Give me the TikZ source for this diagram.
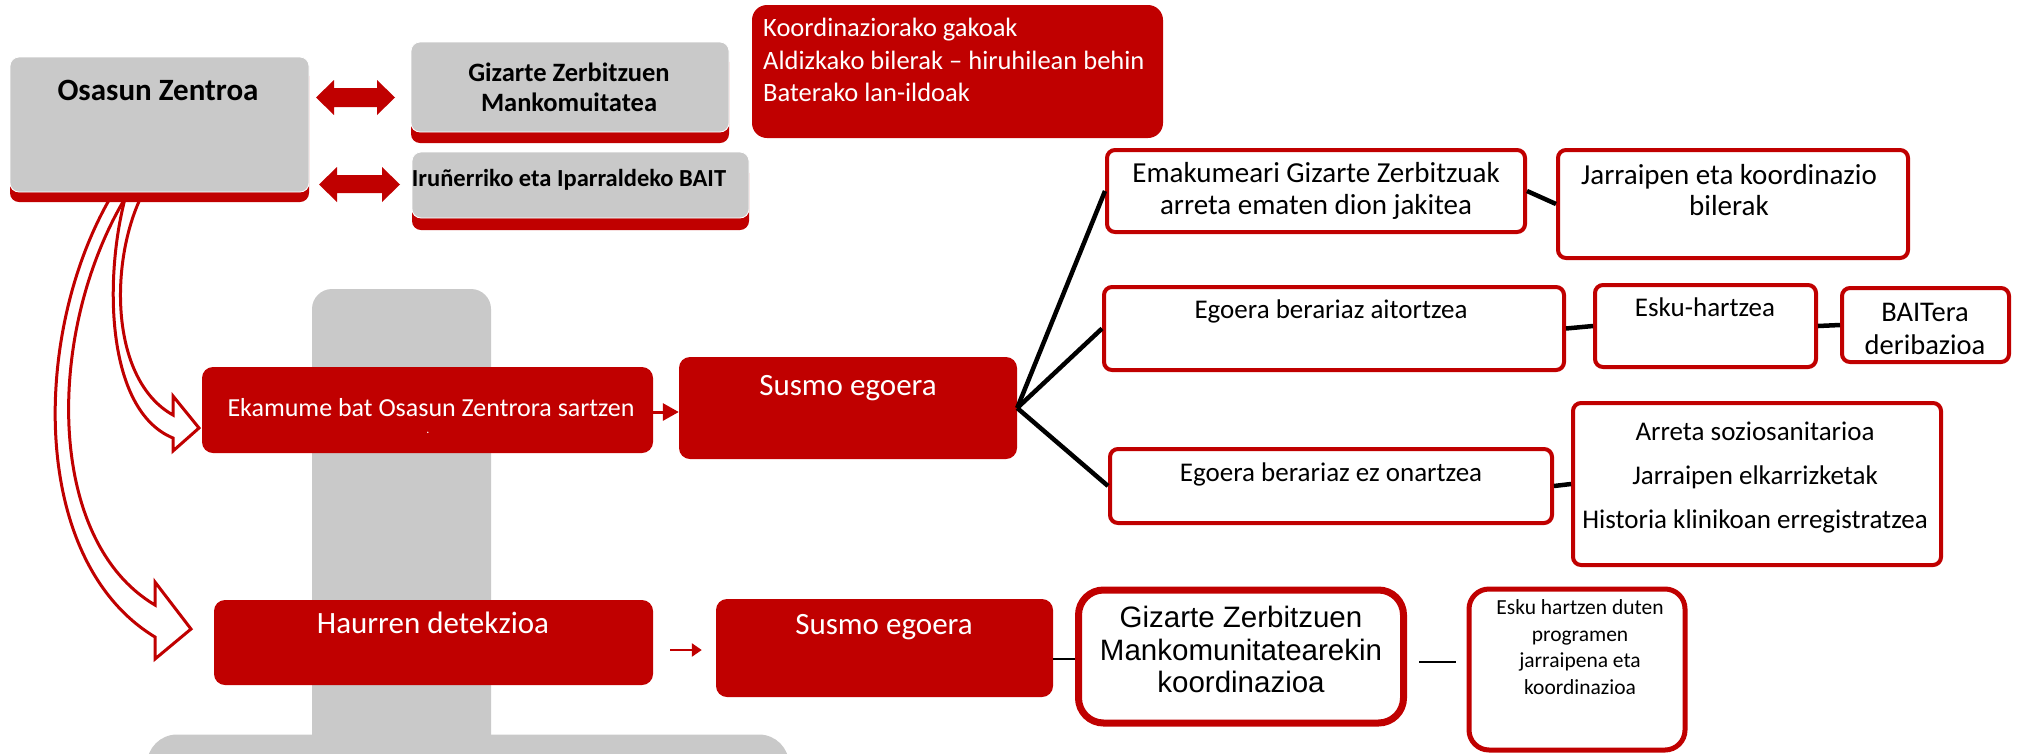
\documentclass[tikz,border=0pt]{standalone}
\usepackage{fontspec}
\setmainfont{Carlito}
\newfontfamily\arialf{Liberation Sans}
\usetikzlibrary{arrows.meta,calc}
\definecolor{rd}{RGB}{192,0,0}
\definecolor{gr}{RGB}{201,201,201}
\newcommand\fsz[2]{\fontsize{#1}{#2}\selectfont}
\begin{document}
\begin{tikzpicture}[x=1pt,y=-1pt,
  gbox/.style={fill=gr, draw=white, line width=0.8, rounded corners=9, inner sep=0},
  shad/.style={fill=rd, rounded corners=9, inner sep=0},
  rbox/.style={fill=rd, rounded corners=11, inner sep=0},
  wbox/.style={fill=white, draw=rd, line width=4, rounded corners=8, inner sep=0},
  txtw/.style={text=white, inner sep=0, align=center, anchor=base},
  txtb/.style={text=black, inner sep=0, align=center, anchor=base},
  blk/.style={draw=black, line width=4.5},
  hollow/.style={draw=rd, line width=3, line join=miter},
  dbl/.style={fill=rd}]
\useasboundingbox (0,0) rectangle (2017,753);
% background gray shapes
\node[fill=gr, rounded corners=20, inner sep=0, minimum width=179, minimum height=471] (bar) at (401.5,524.5) {};
\node[fill=gr, rounded corners=30, inner sep=0, minimum width=642, minimum height=55] (base) at (468,762) {};
% hollow curved arrows
\draw[hollow] (112,195) .. controls (32,330) and (28,560) .. (155,637) -- (155,659) -- (191,629) -- (155,582) -- (155,605) .. controls (45,540) and (45,330) .. (127,195) -- cycle;
\draw[hollow] (126,195) .. controls (104,275) and (105,410) .. (173,438) -- (173,451) -- (199,428) -- (173,396) -- (173,415) .. controls (110,380) and (109,262) .. (142,195) -- cycle;
% Osasun Zentroa
\node[shad, minimum width=299, minimum height=135] (osS) at (159.5,134.5) {};
\node[gbox, minimum width=299, minimum height=135] (os) at (159.5,124.5) {};
\node[txtb, font=\bfseries\fsz{31}{37}] (ost) at (158,100) {Osasun Zentroa};
% Gizarte Zerbitzuen Mankomuitatea
\node[shad, minimum width=318, minimum height=90] (gzS) at (570,98) {};
\node[gbox, minimum width=318, minimum height=90] (gz) at (570,87) {};
\node[txtb, font=\bfseries\fsz{26.5}{30}] (gzt) at (569,111.5) {Gizarte Zerbitzuen\\Mankomuitatea};
% BAIT
\node[shad, minimum width=337, minimum height=66] (btS) at (580.5,197) {};
\node[gbox, minimum width=337, minimum height=66] (bt) at (580.5,185) {};
\node[txtb, font=\bfseries\fsz{24.5}{30}] (btt) at (569,186) {Iruñerriko eta Iparraldeko BAIT};
% double arrows
\fill[dbl] (316,97.5) -- (334,80) -- (334,88) -- (377,88) -- (377,80) -- (395,97.5) -- (377,115) -- (377,107) -- (334,107) -- (334,115) -- cycle;
\fill[dbl] (319,184.5) -- (337,167) -- (337,175) -- (382,175) -- (382,167) -- (400,184.5) -- (382,202) -- (382,193) -- (337,193) -- (337,202) -- cycle;
% Koordinaziorako gakoak
\node[rbox, rounded corners=15, minimum width=411, minimum height=133] (ko) at (957.5,71.5) {};
\node[text=white, inner sep=0, align=left, anchor=base west, font=\fsz{26.5}{32.5}] (kot) at (763,101.5) {Koordinaziorako gakoak\\Aldizkako bilerak – hiruhilean behin\\Baterako lan-ildoak};
% Ekamume
\node[rbox, minimum width=451, minimum height=86] (ek) at (427.5,410) {};
\node[txtw, font=\fsz{26}{30}] (ekt) at (431,416.3) {Ekamume bat Osasun Zentrora sartzen};
\node[txtw, font=\fsz{12}{14}] (ekd) at (428,433) {.};
% Susmo egoera 1
\node[rbox, minimum width=338, minimum height=102] (s1) at (848,408) {};
\node[txtw, font=\fsz{31}{37}] (s1t) at (848,395) {Susmo egoera};
% white boxes right
\node[wbox, minimum width=418, minimum height=82] (em) at (1316,191) {};
\node[txtb, font=\fsz{29}{32}] (emt) at (1316,214.3) {Emakumeari Gizarte Zerbitzuak\\arreta ematen dion jakitea};
\node[wbox, minimum width=350, minimum height=108] (ja) at (1733,204) {};
\node[txtb, font=\fsz{29}{31}] (jat) at (1729,215.3) {Jarraipen eta koordinazio\\bilerak};
\node[wbox, minimum width=460, minimum height=83] (ai) at (1334,328.5) {};
\node[txtb, font=\fsz{27}{32}] (ait) at (1331,318.6) {Egoera berariaz aitortzea};
\node[wbox, minimum width=221, minimum height=82] (eh) at (1705.5,326) {};
\node[txtb, font=\fsz{27}{32}] (eht) at (1705,316.6) {Esku-hartzea};
\node[wbox, minimum width=167, minimum height=74] (ba) at (1925.5,325) {};
\node[txtb, font=\fsz{28.5}{33}] (bat) at (1925,354) {BAITera\\deribazioa};
\node[wbox, minimum width=442, minimum height=74] (ez) at (1331,486) {};
\node[txtb, font=\fsz{27}{32}] (ezt) at (1331,481.6) {Egoera berariaz ez onartzea};
\node[wbox, minimum width=368, minimum height=162] (ar) at (1757,484) {};
\node[txtb, font=\fsz{27}{44}] (art) at (1755,528.6) {Arreta soziosanitarioa\\Jarraipen elkarrizketak\\Historia klinikoan erregistratzea};
% Haurren detekzioa
\node[rbox, minimum width=439, minimum height=85] (ha) at (433.5,642.5) {};
\node[txtw, font=\fsz{31}{37}] (hat) at (433,633) {Haurren detekzioa};
\node[rbox, minimum width=337, minimum height=98] (s2) at (884.5,648) {};
\node[txtw, font=\fsz{31}{37}] (s2t) at (884,634) {Susmo egoera};
\node[wbox, line width=7, rounded corners=25, minimum width=325, minimum height=133] (gk) at (1241,656.5) {};
\node[txtb, font=\arialf\fsz{29.5}{32.5}] (gkt) at (1241,692.6) {Gizarte Zerbitzuen\\Mankomunitatearekin\\koordinazioa};
\node[wbox, line width=5, rounded corners=20, minimum width=216, minimum height=161] (ep) at (1577,669.5) {};
\node[txtb, font=\fsz{21.5}{26.5}] (ept) at (1580,694.3) {Esku hartzen duten\\programen\\jarraipena eta\\koordinazioa};
% connectors
\coordinate (y412) at (0,412);
\coordinate (y650) at (0,650);
\coordinate (y659) at (0,659);
\coordinate (y662) at (0,662);
\draw[rd, line width=3, -{Triangle[length=16,width=17]}] (ek.east |- y412) -- (s1.west |- y412);
\draw[rd, line width=2.5, -{Triangle[length=10,width=13]}, shorten <=17, shorten >=14] (ha.east |- y650) -- (s2.west |- y650);
\draw[blk] (s1.east) -- (em.west);
\draw[blk] (s1.east) -- (ai.west);
\draw[blk] (s1.east) -- (ez.west);
\draw[blk] (em.east) -- (ja.west);
\draw[blk] (ai.east) -- (eh.west);
\draw[blk] (eh.east) -- (ba.west);
\draw[blk] (ez.east) -- (ar.west);
\draw[black, line width=2.5] (s2.east |- y659) -- (gk.west |- y659);
\draw[black, line width=2.5, shorten <=12, shorten >=11] (gk.east |- y662) -- (ep.west |- y662);
\end{tikzpicture}
\end{document}
